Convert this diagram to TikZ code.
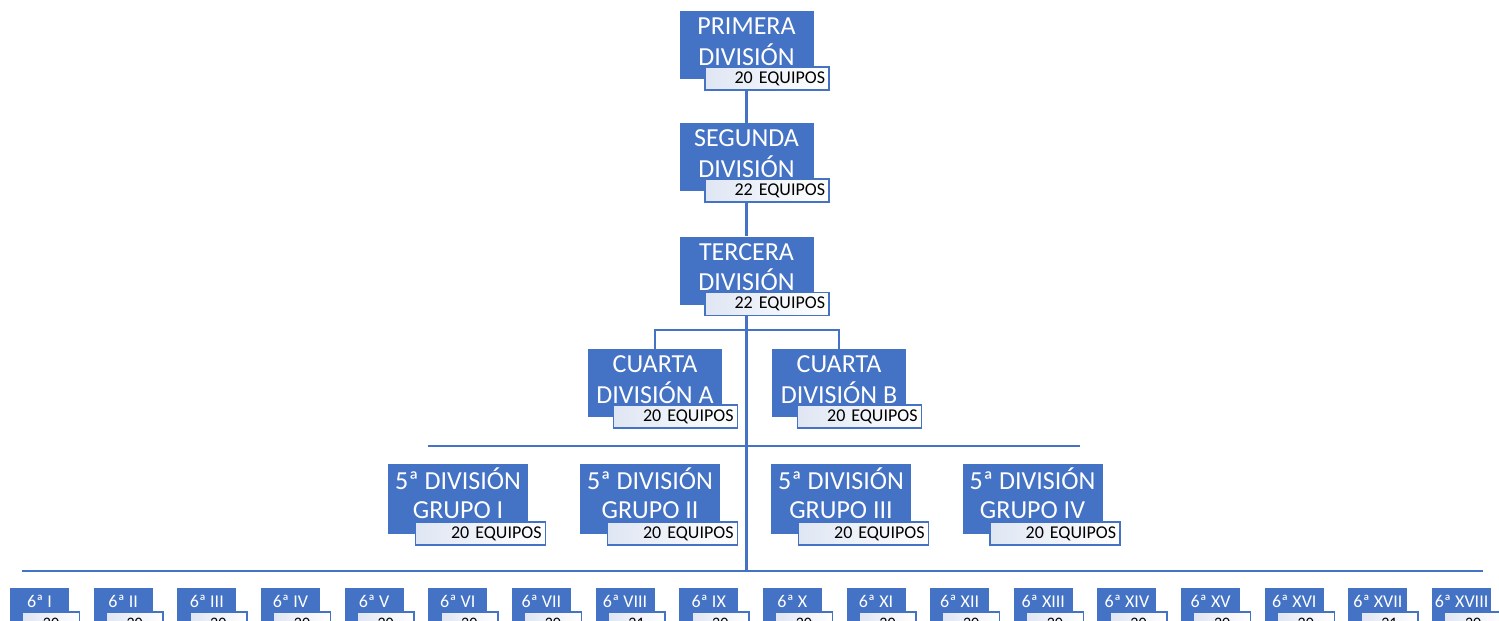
\documentclass[tikz,border=0pt]{standalone}
\usepackage{fontspec}
\setmainfont{Carlito}
\usetikzlibrary{backgrounds}

\definecolor{azul}{HTML}{4472C4}
\definecolor{azulclaro}{HTML}{DFE6F3}

% dos lineas, base en la ultima
\newcommand{\rotulo}[2]{\begin{tabular}[b]{@{}c@{}}#1\\#2\end{tabular}}

\tikzset{
	division/.style={fill=azul, text=white, minimum width=134pt, minimum height=68pt,
		inner sep=0pt, text height=45pt, text depth=5pt, font=\fontsize{26}{29}\selectfont},
	quinta/.style={division, minimum width=140pt, minimum height=70pt, text height=43pt},
	equipos/.style={draw=azul, line width=1.5pt, left color=azulclaro, right color=white,
		minimum height=23pt, text width=116pt, align=right, inner xsep=4pt, inner ysep=0pt,
		anchor=north west, font=\fontsize{18}{19}\selectfont},
	sexta/.style={fill=azul, text=white, minimum width=59pt, anchor=north, inner xsep=0pt,
		inner ysep=4pt, text height=15pt, text depth=30pt, font=\fontsize{18}{20}\selectfont},
	sextaeq/.style={draw=azul, line width=1.5pt, left color=azulclaro, right color=white,
		minimum width=57pt, minimum height=24pt, inner sep=0pt, anchor=north west,
		font=\fontsize{16}{18}\selectfont},
	linea/.style={draw=azul, line width=2.5pt}
}

\begin{document}
\begin{tikzpicture}[x=1pt, y=-1pt]
	\useasboundingbox (0,0) rectangle (1499,621);
	\clip (0,0) rectangle (1499,621);

	% divisiones
	\node[division] (prim) at (746.5,45) {\rotulo{PRIMERA}{DIVISIÓN}};
	\node[equipos] (eqprim) at ([shift={(25,-13)}]prim.south west) {20 EQUIPOS};
	\node[division] (seg) at (746.5,157) {\rotulo{SEGUNDA}{DIVISIÓN}};
	\node[equipos] (eqseg) at ([shift={(25,-13)}]seg.south west) {22 EQUIPOS};
	\node[division] (ter) at (746.5,270.5) {\rotulo{TERCERA}{DIVISIÓN}};
	\node[equipos] (eqter) at ([shift={(25,-13)}]ter.south west) {22 EQUIPOS};

	\node[division] (cuartaA) at (655,383) {\rotulo{CUARTA}{DIVISIÓN A}};
	\node[equipos] (eqcuartaA) at ([shift={(25,-13)}]cuartaA.south west) {20 EQUIPOS};
	\node[division] (cuartaB) at (839,383) {\rotulo{CUARTA}{DIVISIÓN B}};
	\node[equipos] (eqcuartaB) at ([shift={(25,-13)}]cuartaB.south west) {20 EQUIPOS};

	\foreach \grupo/\x in {I/458, II/650, III/841, IV/1032.5} {
		\node[quinta] (quinta\grupo) at (\x,499) {\rotulo{5ª DIVISIÓN}{GRUPO \grupo}};
		\node[equipos, text width=122pt] (eqquinta\grupo) at ([shift={(27,-13)}]quinta\grupo.south west) {20 EQUIPOS};
	}

	\foreach \nom/\num [count=\i from 0] in {I/20, II/20, III/20, IV/20, V/20, VI/20, VII/20, VIII/21, IX/20,
		X/20, XI/20, XII/20, XIII/20, XIV/20, XV/20, XVI/20, XVII/21, XVIII/20} {
		\node[sexta] (sexta\nom) at ({39.5+83.65*\i},588) {6ª \nom};
		\node[sextaeq] (eqsexta\nom) at ([shift={(12,23)}]sexta\nom.north west) {\num};
	}

	% conectores
	\coordinate (rama) at (746.5,330);
	\coordinate (q1) at (428,446);
	\coordinate (q2) at (1080,446);
	\coordinate (s1) at (22,571);
	\coordinate (s2) at (1483,571);
	\coordinate (tronco) at (746.5,571);
	\begin{scope}[on background layer]
		\draw[linea] (prim.south) -- (seg.north);
		\draw[linea] (seg.south) -- (ter.north);
		\draw[linea] (ter.south) -- (tronco);
		\draw[linea] (cuartaA.north) |- (rama) -| (cuartaB.north);
		\draw[linea] (q1) -- (q2);
		\draw[linea] (s1) -- (s2);
	\end{scope}
\end{tikzpicture}
\end{document}
